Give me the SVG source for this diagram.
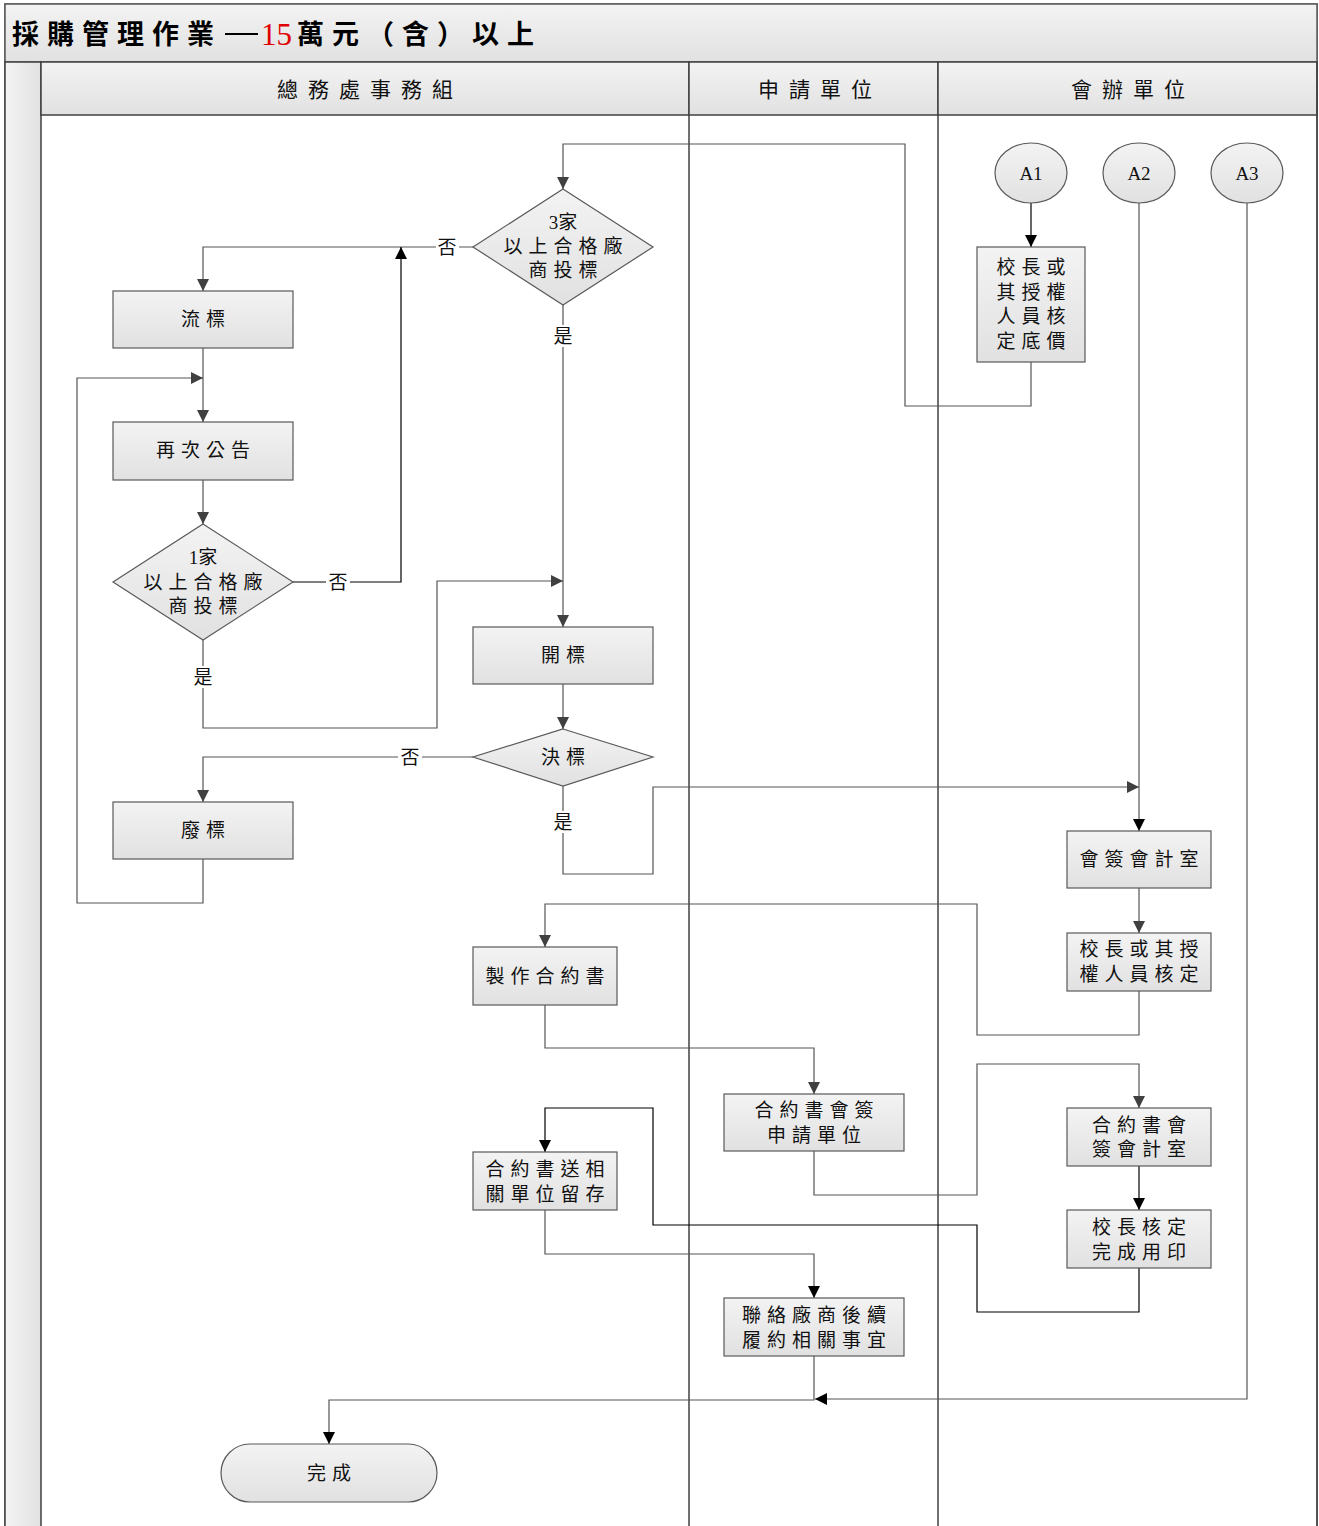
<svg xmlns="http://www.w3.org/2000/svg" width="1319" height="1526" viewBox="0 0 1319 1526">
<defs>
<linearGradient id="gv" x1="0" y1="0" x2="0" y2="1"><stop offset="0" stop-color="#f3f3f3"/><stop offset="1" stop-color="#e1e1e1"/></linearGradient>
<linearGradient id="gh" x1="0" y1="0" x2="1" y2="0"><stop offset="0" stop-color="#f3f3f3"/><stop offset="1" stop-color="#e1e1e1"/></linearGradient>
<marker id="ar" markerUnits="userSpaceOnUse" markerWidth="12" markerHeight="12" viewBox="0 0 12 12" refX="12" refY="6" orient="auto"><path d="M0,0 L12,6 L0,12 Z" fill="#404040"/></marker>
<marker id="ark" markerUnits="userSpaceOnUse" markerWidth="12" markerHeight="12" viewBox="0 0 12 12" refX="12" refY="6" orient="auto"><path d="M0,0 L12,6 L0,12 Z" fill="#000"/></marker>
</defs>
<style>
.nd{fill:url(#gv);stroke:#595959;stroke-width:1.2}
.t{font-family:"Liberation Serif","Noto Sans CJK TC",serif;font-size:19px;fill:#111;text-anchor:middle;letter-spacing:6px}
.h{font-family:"Liberation Serif","Noto Sans CJK TC",serif;font-size:21px;fill:#111;text-anchor:middle;letter-spacing:10px}
.c{fill:none;stroke:#555;stroke-width:1.2}
.ck{fill:none;stroke:#000;stroke-width:1.2}
.lb{font-family:"Liberation Serif","Noto Sans CJK TC",serif;font-size:19px;fill:#111;text-anchor:middle}
.ln{stroke:#404040;stroke-width:1.5}
.tt{font-family:"Liberation Serif","Noto Sans CJK TC",serif;font-size:27px;font-weight:bold;fill:#000;letter-spacing:8px}
</style>
<g id="frame">
<rect x="5" y="4" width="1312" height="1530" fill="#fff" stroke="#5a5a5a" stroke-width="1.5"/>
<rect x="5" y="4" width="1312" height="58" fill="url(#gv)" stroke="#5a5a5a" stroke-width="1.5"/>
<rect x="5" y="62" width="36" height="1470" fill="url(#gh)" stroke="#404040" stroke-width="1.5"/>
<rect x="41" y="62" width="648" height="53" fill="url(#gv)" stroke="#404040" stroke-width="1.5"/>
<rect x="689" y="62" width="249" height="53" fill="url(#gv)" stroke="#404040" stroke-width="1.5"/>
<rect x="938" y="62" width="379" height="53" fill="url(#gv)" stroke="#404040" stroke-width="1.5"/>
<line class="ln" x1="689" y1="115" x2="689" y2="1526"/>
<line class="ln" x1="938" y1="115" x2="938" y2="1526"/>
<line class="ln" x1="1317" y1="62" x2="1317" y2="1526"/>
<text class="tt" x="12" y="44">採購管理作業</text>
<line x1="225" y1="34" x2="258" y2="34" stroke="#000" stroke-width="2"/>
<text x="261" y="45" font-family="'Liberation Serif',serif" font-size="31" fill="#e00000">15</text>
<text class="tt" x="297" y="44">萬元（含）以上</text>
<text class="h" x="370" y="97">總務處事務組</text>
<text class="h" x="820" y="97">申請單位</text>
<text class="h" x="1133" y="97">會辦單位</text>
</g>
<g id="connectors">
<path class="c" d="M1031,362 V406 H905 V144 H563 V189" marker-end="url(#ar)"/>
<path class="ck" d="M1031,203 V247" marker-end="url(#ark)"/>
<path class="c" d="M473,247 H459 M436,247 H203 V291" marker-end="url(#ar)"/>
<text class="lb" x="447" y="254">否</text>
<path class="ck" d="M293,582 H326 M350,582 H401 V247" marker-end="url(#ark)"/>
<text class="lb" x="338" y="589">否</text>
<path class="c" d="M563,305 V325 M563,347 V627" marker-end="url(#ar)"/>
<text class="lb" x="563" y="343">是</text>
<path class="c" d="M203,640 V666 M203,688 V728 H437 V581 H563" marker-end="url(#ar)"/>
<text class="lb" x="203" y="684">是</text>
<path class="c" d="M203,348 V422" marker-end="url(#ar)"/>
<path class="c" d="M203,859 V903 H77 V378 H203" marker-end="url(#ar)"/>
<path class="c" d="M203,480 V524" marker-end="url(#ar)"/>
<path class="c" d="M563,684 V729" marker-end="url(#ar)"/>
<path class="c" d="M473,757 H422 M398,757 H203 V802" marker-end="url(#ar)"/>
<text class="lb" x="410" y="764">否</text>
<path class="c" d="M563,786 V811 M563,833 V874 H653 V787 H1139" marker-end="url(#ar)"/>
<text class="lb" x="563" y="829">是</text>
<path class="c" d="M1139,203 V831" marker-end="url(#ark)"/>
<path class="c" d="M1139,888 V933" marker-end="url(#ar)"/>
<path class="c" d="M1139,991 V1035 H977 V904 H545 V947" marker-end="url(#ar)"/>
<path class="c" d="M545,1005 V1048 H814 V1094" marker-end="url(#ar)"/>
<path class="c" d="M814,1151 V1195 H977 V1064 H1139 V1108" marker-end="url(#ar)"/>
<path class="ck" d="M1139,1166 V1210" marker-end="url(#ark)"/>
<path class="ck" d="M1139,1268 V1312 H977 V1225 H653 V1108 H545 V1152" marker-end="url(#ark)"/>
<path class="c" d="M545,1210 V1254 H814 V1298" marker-end="url(#ark)"/>
<path class="c" d="M814,1356 V1400 H329 V1444" marker-end="url(#ark)"/>
<path class="c" d="M1247,203 V1399 H815" marker-end="url(#ark)"/>
</g>
<g id="n_3jia"><path class="nd" d="M563,189 L653,247 L563,305 L473,247 Z"/><text class="lb" x="563" y="229" font-size="20">3家</text><text class="t" x="566" y="253">以上合格廠</text><text class="t" x="566" y="277">商投標</text></g>
<g id="n_liubiao"><rect class="nd" x="113" y="291" width="180" height="57"/><text class="t" x="206" y="326">流標</text></g>
<g id="n_zaici"><rect class="nd" x="113" y="422" width="180" height="58"/><text class="t" x="206" y="457">再次公告</text></g>
<g id="n_1jia"><path class="nd" d="M203,524 L293,582 L203,640 L113,582 Z"/><text class="lb" x="203" y="564" font-size="20">1家</text><text class="t" x="206" y="589">以上合格廠</text><text class="t" x="206" y="613">商投標</text></g>
<g id="n_kaibiao"><rect class="nd" x="473" y="627" width="180" height="57"/><text class="t" x="566" y="662">開標</text></g>
<g id="n_juebiao"><path class="nd" d="M563,729 L653,757 L563,786 L473,757 Z"/><text class="t" x="566" y="764">決標</text></g>
<g id="n_feibiao"><rect class="nd" x="113" y="802" width="180" height="57"/><text class="t" x="206" y="837">廢標</text></g>
<g id="n_A1"><ellipse class="nd" cx="1031" cy="173" rx="36" ry="30"/><text class="lb" x="1031" y="180" font-size="20">A1</text></g>
<g id="n_A2"><ellipse class="nd" cx="1139" cy="173" rx="36" ry="30"/><text class="lb" x="1139" y="180" font-size="20">A2</text></g>
<g id="n_A3"><ellipse class="nd" cx="1247" cy="173" rx="36" ry="30"/><text class="lb" x="1247" y="180" font-size="20">A3</text></g>
<g id="n_dijia"><rect class="nd" x="977" y="247" width="108" height="115"/><text class="t" x="1034" y="274">校長或</text><text class="t" x="1034" y="299">其授權</text><text class="t" x="1034" y="323">人員核</text><text class="t" x="1034" y="348">定底價</text></g>
<g id="n_kuaiji"><rect class="nd" x="1067" y="831" width="144" height="57"/><text class="t" x="1142" y="866">會簽會計室</text></g>
<g id="n_hezhun"><rect class="nd" x="1067" y="933" width="144" height="58"/><text class="t" x="1142" y="956">校長或其授</text><text class="t" x="1142" y="981">權人員核定</text></g>
<g id="n_zhizuo"><rect class="nd" x="473" y="947" width="144" height="58"/><text class="t" x="548" y="983">製作合約書</text></g>
<g id="n_huiqian_sq"><rect class="nd" x="724" y="1094" width="180" height="57"/><text class="t" x="817" y="1117">合約書會簽</text><text class="t" x="817" y="1142">申請單位</text></g>
<g id="n_huiqian_kj"><rect class="nd" x="1067" y="1108" width="144" height="58"/><text class="t" x="1142" y="1132">合約書會</text><text class="t" x="1142" y="1156">簽會計室</text></g>
<g id="n_yongyin"><rect class="nd" x="1067" y="1210" width="144" height="58"/><text class="t" x="1142" y="1234">校長核定</text><text class="t" x="1142" y="1259">完成用印</text></g>
<g id="n_liucun"><rect class="nd" x="473" y="1152" width="144" height="58"/><text class="t" x="548" y="1176">合約書送相</text><text class="t" x="548" y="1201">關單位留存</text></g>
<g id="n_lianluo"><rect class="nd" x="724" y="1298" width="180" height="58"/><text class="t" x="817" y="1322">聯絡廠商後續</text><text class="t" x="817" y="1347">履約相關事宜</text></g>
<g id="n_wancheng"><rect class="nd" x="221" y="1444" width="216" height="58" rx="29" ry="29"/><text class="t" x="332" y="1480">完成</text></g>
</svg>
